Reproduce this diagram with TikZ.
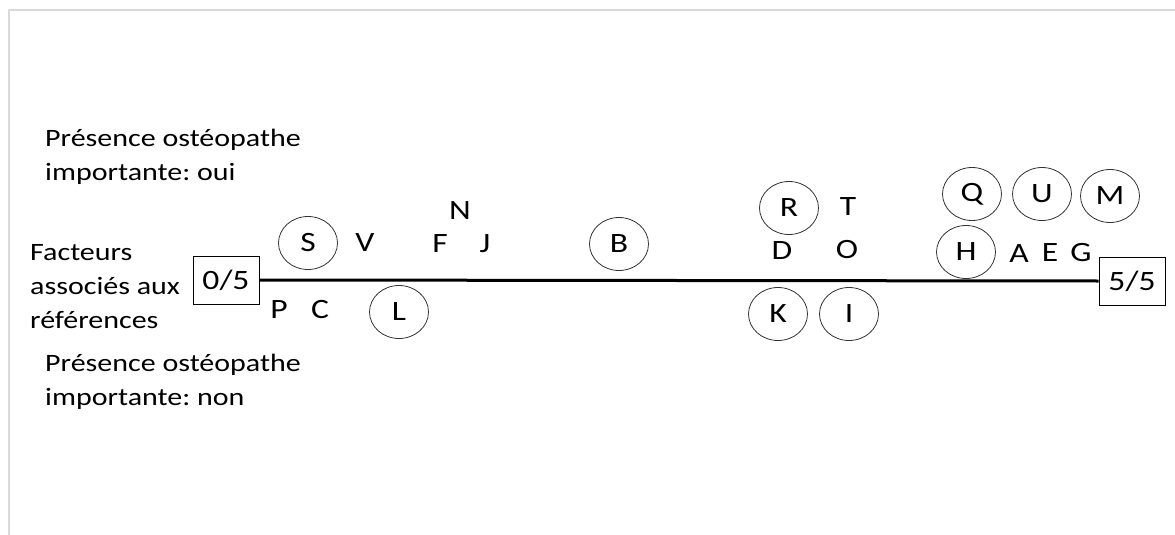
\documentclass[tikz,border=0pt]{standalone}
\usepackage{fontspec}
\setmainfont{Carlito}[FakeStretch=1.2]
\usetikzlibrary{shapes.geometric}
\usetikzlibrary{positioning}
\definecolor{framegray}{RGB}{217,217,217}
\tikzset{
	lbl/.style={font=\fontsize{28}{32}\selectfont,inner sep=0pt},
	ring/.style={lbl,draw=black!80,line width=0.8pt,ellipse,minimum width=59pt,minimum height=53pt},
	scorebox/.style={lbl,draw,line width=0.9pt,minimum width=66pt,minimum height=48pt},
	note/.style={font=\fontsize{25}{34}\selectfont\frenchspacing,align=left,anchor=west,inner sep=0pt},
	axis/.style={line width=3pt}
}
\begin{document}
\begin{tikzpicture}[x=1pt,y=-1pt]
\useasboundingbox (0,0) rectangle (1175,535);
\draw[framegray,line width=1.6pt] (9,535) -- (9,10) -- (1175,10);
% side texts
\node[note] (oui) at (45,157) {Présence ostéopathe\\importante: oui};
\node[note] (facteurs) at (30,287) {Facteurs\\associés aux\\références};
\node[note] (non) at (45,382) {Présence ostéopathe\\importante: non};
% scale
\node[scorebox] (zero) at (226,280) {0/5};
\node[scorebox] (five) at (1132,281) {5/5};
\draw[axis] (zero.east) -- (five.west);
% above the line
	\node[ring] (S) at (308,243) {S}; \node[lbl] (V) at (365,243) {V};
	\node[lbl] (N) at (460,211) {N};
	\node[lbl] (F) at (440,244) {F}; \node[lbl] (J) at (485,244) {J};
	\node[ring] (B) at (619,244) {B};
	\node[ring] (R) at (789,208) {R}; \node[lbl] (T) at (848,207) {T};
	\node[lbl] (D) at (782,251) {D}; \node[lbl] (O) at (847,250) {O};
	\node[ring] (Q) at (972,194) {Q}; \node[ring] (U) at (1042,194) {U};
	\node[ring] (M) at (1110,196) {M};
	\node[ring] (H) at (966,252) {H};
	\node[lbl] (A) at (1019,254) {A}; \node[lbl] (E) at (1050,253) {E};
	\node[lbl] (G) at (1081,253) {G};
% below the line
	\node[lbl] (P) at (279,310) {P}; \node[lbl] (C) at (320,310) {C};
	\node[ring] (L) at (399,312) {L};
	\node[ring] (K) at (778,314) {K}; \node[ring] (I) at (849,314) {I};
\end{tikzpicture}
\end{document}
